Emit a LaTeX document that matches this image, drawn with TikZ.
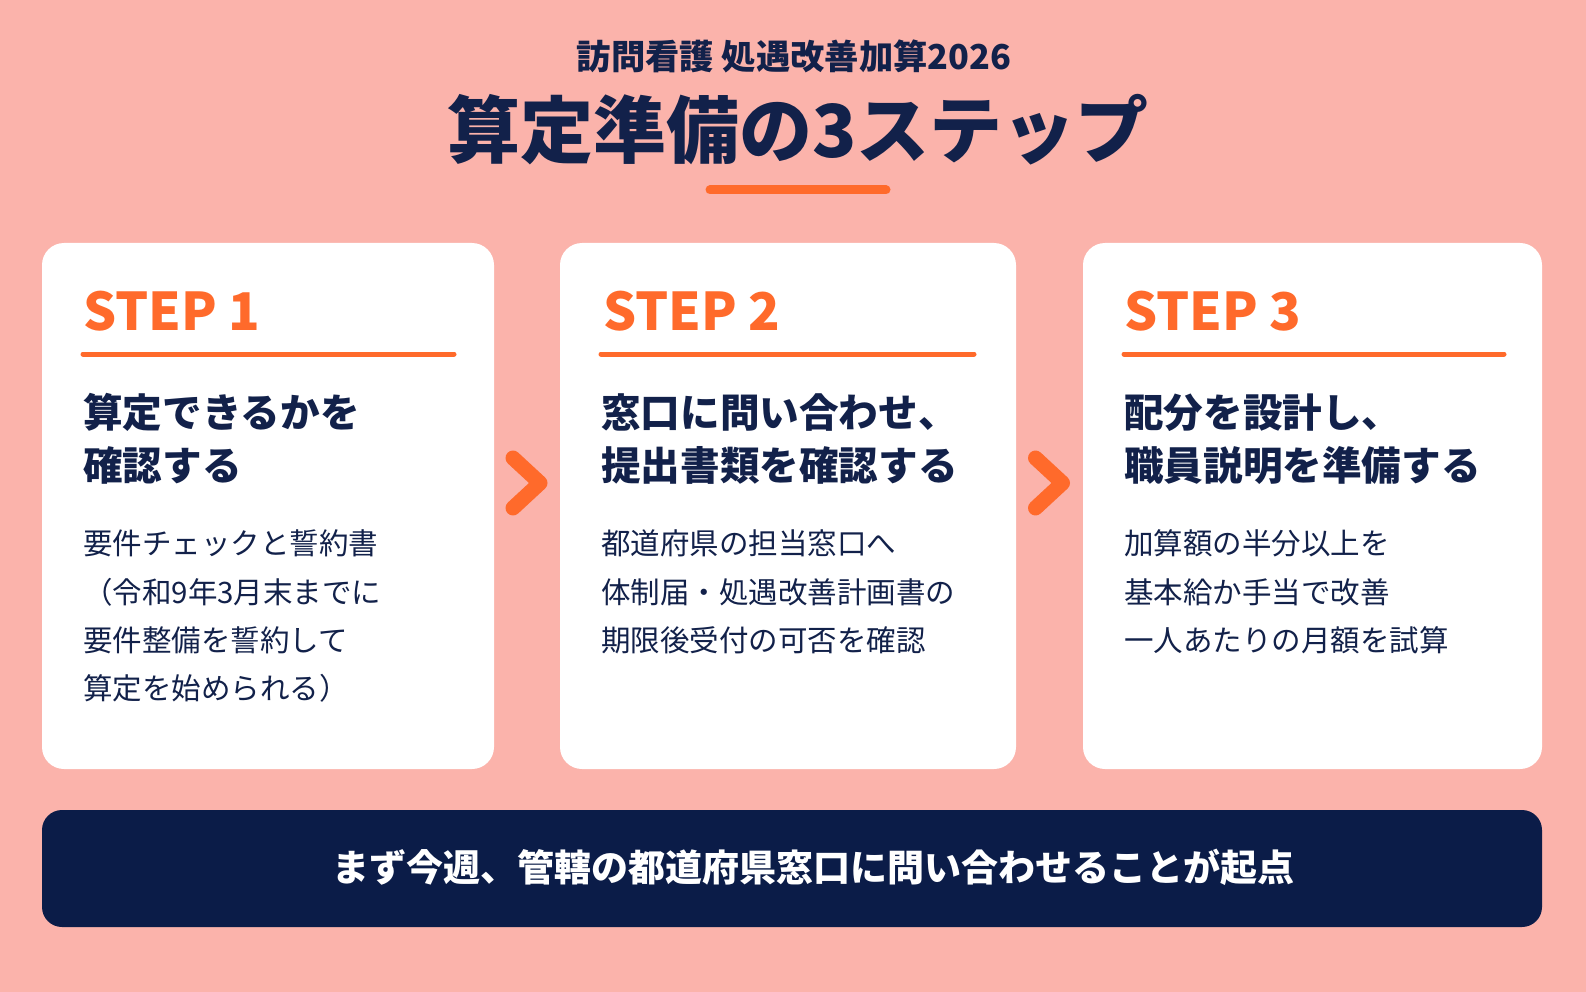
\documentclass[tikz,border=0pt]{standalone}
\usepackage{fontspec}
\setmainfont{Noto Sans CJK JP}
\usetikzlibrary{calc}
\definecolor{bg}{HTML}{FBB3AB}
\definecolor{navy}{HTML}{12214A}
\definecolor{orng}{HTML}{FF6A2B}
\definecolor{barc}{HTML}{0B1C48}
\tikzset{
 card/.style={fill=white, rounded corners=22pt, minimum height=526pt, inner sep=0pt, draw=none},
 steplabel/.style={anchor=base west, inner sep=0pt, text=orng, font=\bfseries\fontsize{52}{52}\selectfont},
 rulestyle/.style={draw=orng, line width=5pt, line cap=round},
 heading/.style={anchor=base west, inner sep=0pt, text=navy, font=\bfseries\fontsize{39.6}{39.6}\selectfont},
 bodytext/.style={anchor=base west, inner sep=0pt, text=navy, font=\fontsize{29.5}{29.5}\selectfont},
 chev/.style={draw=orng, line width=15pt, line cap=round, line join=round},
}
\begin{document}
\begin{tikzpicture}[x=1pt,y=-1pt]
\fill[bg] (0,0) rectangle (1586,992);
\useasboundingbox (0,0) rectangle (1586,992);
% titles
\node[anchor=base, inner sep=0pt, text=navy, font=\bfseries\fontsize{34.3}{34.3}\selectfont] (t1) at (794,70) {訪問看護 処遇改善加算2026};
\node[anchor=base, inner sep=0pt, text=navy, font=\bfseries\fontsize{73}{73}\selectfont] (t2) at (798,157.5) {算定準備の3ステップ};
\coordinate (ul1) at (710,190);
\coordinate (ul2) at (886,190);
\draw[orng, line width=9pt, line cap=round] (ul1) -- (ul2);
% cards
\node[card, minimum width=452pt] (c1) at (268,506) {};
\node[card, minimum width=456pt] (c2) at (788,506) {};
\node[card, minimum width=459pt] (c3) at (1312.5,506) {};
% card 1
\node[steplabel] (s1) at (83,330) {STEP 1};
\coordinate (r1a) at (83,354); \coordinate (r1b) at (454,354);
\draw[rulestyle] (r1a) -- (r1b);
\node[heading] (h1a) at (83,427) {算定できるかを};
\node[heading] (h1b) at (83,480) {確認する};
\node[bodytext] (b1a) at (83,554) {要件チェックと誓約書};
\node[bodytext] (b1b) at (83,603) {（令和9年3月末までに};
\node[bodytext] (b1c) at (83,651) {要件整備を誓約して};
\node[bodytext] (b1d) at (83,699) {算定を始められる）};
% card 2
\node[steplabel] (s2) at (603,330) {STEP 2};
\coordinate (r2a) at (601,354); \coordinate (r2b) at (974,354);
\draw[rulestyle] (r2a) -- (r2b);
\node[heading] (h2a) at (601,427) {窓口に問い合わせ、};
\node[heading] (h2b) at (601,480) {提出書類を確認する};
\node[bodytext] (b2a) at (601,554) {都道府県の担当窓口へ};
\node[bodytext] (b2b) at (601,603) {体制届・処遇改善計画書の};
\node[bodytext] (b2c) at (601,651) {期限後受付の可否を確認};
% card 3
\node[steplabel] (s3) at (1124,330) {STEP 3};
\coordinate (r3a) at (1124,354); \coordinate (r3b) at (1504,354);
\draw[rulestyle] (r3a) -- (r3b);
\node[heading] (h3a) at (1124,427) {配分を設計し、};
\node[heading] (h3b) at (1124,480) {職員説明を準備する};
\node[bodytext] (b3a) at (1124,554) {加算額の半分以上を};
\node[bodytext] (b3b) at (1124,603) {基本給か手当で改善};
\node[bodytext] (b3c) at (1124,651) {一人あたりの月額を試算};
% chevrons
\coordinate (k1) at ($(c1.east)!0.5!(c2.west)+(0,-23)$);
\coordinate (k2) at ($(c2.east)!0.5!(c3.west)+(0,-23)$);
\draw[chev] ($(k1)+(-14,-25)$) -- ($(k1)+(13,0)$) -- ($(k1)+(-14,25)$);
\draw[chev] ($(k2)+(-14,-25)$) -- ($(k2)+(13,0)$) -- ($(k2)+(-14,25)$);
% bottom bar
\node[fill=barc, rounded corners=20pt, minimum width=1500pt, minimum height=117pt, inner sep=0pt] (bar) at (792,868.5) {};
\node[anchor=base, inner sep=0pt, text=white, font=\bfseries\fontsize{37}{37}\selectfont] (bt) at (813,881.5) {まず今週、管轄の都道府県窓口に問い合わせることが起点};
\end{tikzpicture}
\end{document}
